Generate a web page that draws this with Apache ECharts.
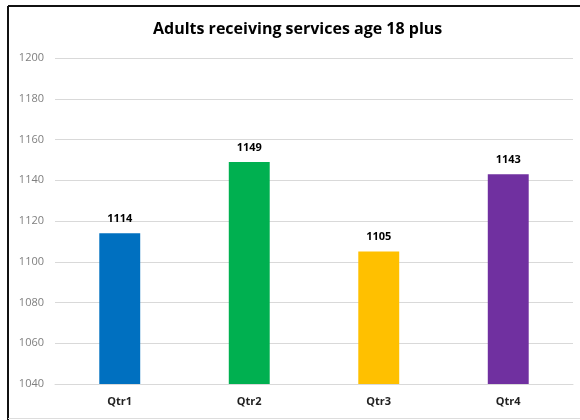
<!DOCTYPE html>
<html>
<head>
<meta charset="utf-8">
<script src="https://cdn.jsdelivr.net/npm/echarts@6/dist/echarts.min.js"></script>
<style>
  html, body { margin: 0; padding: 0; background: #fff; }
  #chart { width: 580px; height: 420px; }
</style>
</head>
<body>
<div id="chart"></div>
<script>
const categories = ['Qtr1', 'Qtr2', 'Qtr3', 'Qtr4'];
const values = [1114, 1149, 1105, 1143];
const barColors = ['#0070C0', '#00B050', '#FFC000', '#7030A0'];
const titleText = 'Adults receiving services age 18 plus';

const chart = echarts.init(document.getElementById('chart'), null, { renderer: 'canvas' });

chart.setOption({
  animation: false,
  backgroundColor: '#fff',
  title: {
    text: titleText,
    left: 153,
    top: 21,
    padding: 0,
    textStyle: {
      fontFamily: 'Open Sans',
      fontSize: 16,
      fontWeight: 'bold',
      color: '#000'
    }
  },
  graphic: [
    { type: 'line', shape: { x1: 8, y1: 6, x2: 580, y2: 6 }, style: { stroke: '#111', lineWidth: 2 } },
    { type: 'line', shape: { x1: 8, y1: 6, x2: 8, y2: 420 }, style: { stroke: '#111', lineWidth: 2 } },
    { type: 'line', shape: { x1: 8, y1: 418.5, x2: 580, y2: 418.5 }, style: { stroke: '#ddd', lineWidth: 1 } }
  ],
  grid: {
    left: 55,
    right: 7,
    top: 58,
    bottom: 36,
    containLabel: false
  },
  xAxis: {
    type: 'category',
    data: categories,
    axisTick: { show: false },
    axisLine: { lineStyle: { color: '#d9d9d9', width: 1 } },
    axisLabel: {
      margin: 12,
      fontFamily: 'Open Sans',
      fontSize: 11,
      fontWeight: 'bold',
      color: '#222'
    }
  },
  yAxis: {
    type: 'value',
    min: 1040,
    max: 1200,
    interval: 20,
    axisLine: { show: false },
    axisTick: { show: false },
    splitLine: { lineStyle: { color: '#d9d9d9', width: 1 } },
    axisLabel: {
      margin: 11,
      fontFamily: 'Open Sans',
      fontSize: 11,
      color: '#7f7f7f',
      formatter: (v) => String(v)
    }
  },
  series: [{
    type: 'bar',
    data: values.map((v, i) => ({ value: v, itemStyle: { color: barColors[i] } })),
    barWidth: '31.6%',
    label: {
      show: true,
      position: 'top',
      distance: 9,
      fontFamily: 'Open Sans',
      fontSize: 11,
      fontWeight: 'bold',
      color: '#000'
    }
  }]
});
</script>
</body>
</html>
